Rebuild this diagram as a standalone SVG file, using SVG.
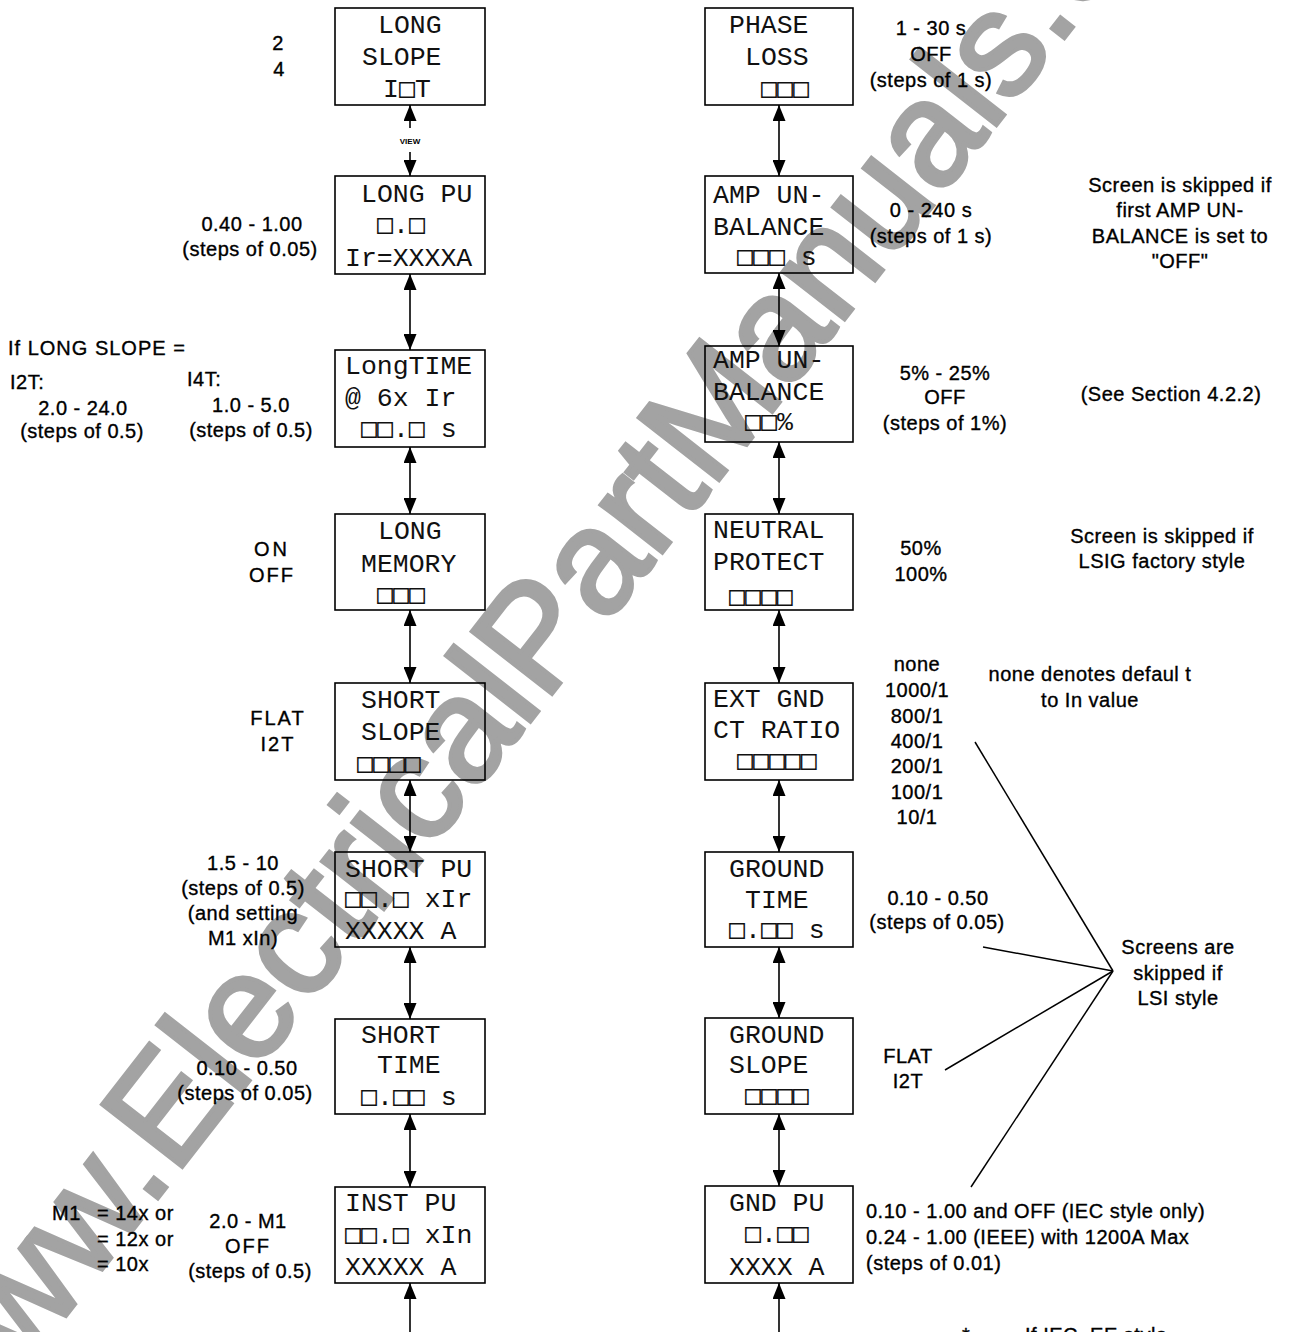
<svg xmlns="http://www.w3.org/2000/svg" width="1292" height="1332" viewBox="0 0 1292 1332">
<style>
.box{fill:none;stroke:#000;stroke-width:1.6}
.lcd{font-family:"Liberation Mono","DejaVu Sans Mono",monospace;font-size:26.5px;fill:#111}
.sq{font-family:"DejaVu Sans Mono",monospace;fill:#111}
.lbl{font-family:"Liberation Sans",Arial,sans-serif;font-size:20px;letter-spacing:0.5px;fill:#000;stroke:#000;stroke-width:0.35px}
.c{text-anchor:middle}
.conn line{stroke:#000;stroke-width:1.6}
.ptr line{stroke:#000;stroke-width:1.5}
.wm{font-family:"Liberation Sans",Arial,sans-serif;font-size:148px;fill:#a3a3a3;stroke:#a3a3a3;stroke-width:4px;stroke-linejoin:miter}
.view{font-family:"Liberation Sans",Arial,sans-serif;font-weight:bold;font-size:8px;fill:#000;text-anchor:middle}
</style>
<defs>
<marker id="ah" viewBox="0 0 16 13" refX="16" refY="6.5" markerWidth="16" markerHeight="13" markerUnits="userSpaceOnUse" orient="auto-start-reverse">
<path d="M0,0 L16,6.5 L0,13 z" fill="#000"/>
</marker>
</defs>
<rect width="1292" height="1332" fill="#fff"/>
<g id="watermark">
<text class="wm" transform="translate(180,1170) rotate(-52)" x="-362" y="0">www.ElectricalPartManuals.com</text>
</g>
<g id="connectors" class="conn">
<line x1="410" y1="105" x2="410" y2="128" marker-start="url(#ah)"/>
<line x1="410" y1="152" x2="410" y2="176" marker-end="url(#ah)"/>
<line x1="410" y1="274" x2="410" y2="350" marker-start="url(#ah)" marker-end="url(#ah)"/>
<line x1="410" y1="447" x2="410" y2="514" marker-start="url(#ah)" marker-end="url(#ah)"/>
<line x1="410" y1="610" x2="410" y2="683" marker-start="url(#ah)" marker-end="url(#ah)"/>
<line x1="410" y1="780" x2="410" y2="852" marker-start="url(#ah)" marker-end="url(#ah)"/>
<line x1="410" y1="947" x2="410" y2="1019" marker-start="url(#ah)" marker-end="url(#ah)"/>
<line x1="410" y1="1114" x2="410" y2="1187" marker-start="url(#ah)" marker-end="url(#ah)"/>
<line x1="410" y1="1283" x2="410" y2="1340" marker-start="url(#ah)"/>
<line x1="779" y1="105" x2="779" y2="176" marker-start="url(#ah)" marker-end="url(#ah)"/>
<line x1="779" y1="273" x2="779" y2="346" marker-start="url(#ah)" marker-end="url(#ah)"/>
<line x1="779" y1="442" x2="779" y2="514" marker-start="url(#ah)" marker-end="url(#ah)"/>
<line x1="779" y1="610" x2="779" y2="683" marker-start="url(#ah)" marker-end="url(#ah)"/>
<line x1="779" y1="780" x2="779" y2="852" marker-start="url(#ah)" marker-end="url(#ah)"/>
<line x1="779" y1="947" x2="779" y2="1018" marker-start="url(#ah)" marker-end="url(#ah)"/>
<line x1="779" y1="1114" x2="779" y2="1186" marker-start="url(#ah)" marker-end="url(#ah)"/>
<line x1="779" y1="1283" x2="779" y2="1340" marker-start="url(#ah)"/>
<text class="view" x="410" y="144">VIEW</text>
</g>
<g id="pointers" class="ptr">
<line x1="975" y1="742" x2="1113" y2="971"/>
<line x1="983" y1="947" x2="1113" y2="971"/>
<line x1="945" y1="1070" x2="1113" y2="971"/>
<line x1="971" y1="1187" x2="1113" y2="971"/>
</g>
<g id="long-slope"><rect class="box" x="335" y="8" width="150" height="97"/>
<text class="lcd" x="378" y="33">LONG</text><text class="lcd" x="362" y="65">SLOPE</text><text class="lcd" x="383" y="97">I<tspan class="sq">□</tspan>T</text></g>
<g id="long-pu"><rect class="box" x="335" y="176" width="150" height="98"/>
<text class="lcd" x="361" y="202">LONG PU</text><text class="lcd" x="377" y="233"><tspan class="sq">□</tspan>.<tspan class="sq">□</tspan></text><text class="lcd" x="345" y="266">Ir=XXXXA</text></g>
<g id="long-time"><rect class="box" x="335" y="350" width="150" height="97"/>
<text class="lcd" x="345" y="374">LongTIME</text><text class="lcd" x="345" y="406">@ 6x Ir</text><text class="lcd" x="361" y="437"><tspan class="sq">□□</tspan>.<tspan class="sq">□</tspan> s</text></g>
<g id="long-memory"><rect class="box" x="335" y="514" width="150" height="96"/>
<text class="lcd" x="378" y="539">LONG</text><text class="lcd" x="361" y="572">MEMORY</text><text class="lcd sq" x="377" y="603">□□□</text></g>
<g id="short-slope"><rect class="box" x="335" y="683" width="150" height="97"/>
<text class="lcd" x="361" y="708">SHORT</text><text class="lcd" x="361" y="740">SLOPE</text><text class="lcd sq" x="357" y="772">□□□□</text></g>
<g id="short-pu"><rect class="box" x="335" y="852" width="150" height="95"/>
<text class="lcd" x="345" y="877">SHORT PU</text><text class="lcd" x="345" y="907"><tspan class="sq">□□</tspan>.<tspan class="sq">□</tspan> xIr</text><text class="lcd" x="345" y="939">XXXXX A</text></g>
<g id="short-time"><rect class="box" x="335" y="1019" width="150" height="95"/>
<text class="lcd" x="361" y="1043">SHORT</text><text class="lcd" x="377" y="1073">TIME</text><text class="lcd" x="361" y="1105"><tspan class="sq">□</tspan>.<tspan class="sq">□□</tspan> s</text></g>
<g id="inst-pu"><rect class="box" x="335" y="1187" width="150" height="96"/>
<text class="lcd" x="345" y="1211">INST PU</text><text class="lcd" x="345" y="1243"><tspan class="sq">□□</tspan>.<tspan class="sq">□</tspan> xIn</text><text class="lcd" x="345" y="1275">XXXXX A</text></g>
<g id="phase-loss"><rect class="box" x="705" y="8" width="148" height="97"/>
<text class="lcd" x="729" y="33">PHASE</text><text class="lcd" x="745" y="65">LOSS</text><text class="lcd sq" x="761" y="97">□□□</text></g>
<g id="amp-unbalance-time"><rect class="box" x="705" y="176" width="148" height="97"/>
<text class="lcd" x="713" y="203">AMP UN-</text><text class="lcd" x="713" y="235">BALANCE</text><text class="lcd" x="737" y="265"><tspan class="sq">□□□</tspan> s</text></g>
<g id="amp-unbalance-pct"><rect class="box" x="705" y="346" width="148" height="96"/>
<text class="lcd" x="713" y="368">AMP UN-</text><text class="lcd" x="713" y="400">BALANCE</text><text class="lcd" x="745" y="430"><tspan class="sq">□□</tspan>%</text></g>
<g id="neutral-protect"><rect class="box" x="705" y="514" width="148" height="96"/>
<text class="lcd" x="713" y="538">NEUTRAL</text><text class="lcd" x="713" y="570">PROTECT</text><text class="lcd sq" x="729" y="605">□□□□</text></g>
<g id="ext-gnd"><rect class="box" x="705" y="683" width="148" height="97"/>
<text class="lcd" x="713" y="707">EXT GND</text><text class="lcd" x="713" y="738">CT RATIO</text><text class="lcd sq" x="737" y="769">□□□□□</text></g>
<g id="ground-time"><rect class="box" x="705" y="852" width="148" height="95"/>
<text class="lcd" x="729" y="877">GROUND</text><text class="lcd" x="745" y="908">TIME</text><text class="lcd" x="729" y="938"><tspan class="sq">□</tspan>.<tspan class="sq">□□</tspan> s</text></g>
<g id="ground-slope"><rect class="box" x="705" y="1018" width="148" height="96"/>
<text class="lcd" x="729" y="1043">GROUND</text><text class="lcd" x="729" y="1073">SLOPE</text><text class="lcd sq" x="745" y="1104">□□□□</text></g>
<g id="gnd-pu"><rect class="box" x="705" y="1186" width="148" height="97"/>
<text class="lcd" x="729" y="1211">GND PU</text><text class="lcd" x="745" y="1242"><tspan class="sq">□</tspan>.<tspan class="sq">□□</tspan></text><text class="lcd" x="729" y="1275">XXXX A</text></g>
<g id="labels-left">
<text class="lbl c" x="278" y="50">2</text><text class="lbl c" x="279" y="76">4</text>
<text class="lbl c" x="252" y="231">0.40 - 1.00</text><text class="lbl c" x="250" y="256">(steps of 0.05)</text>
<text class="lbl" x="8" y="355" style="letter-spacing:1px">If LONG SLOPE =</text>
<text class="lbl" x="10" y="389">I2T:</text><text class="lbl" x="187" y="386">I4T:</text>
<text class="lbl c" x="83" y="415">2.0 - 24.0</text><text class="lbl c" x="82" y="438">(steps of 0.5)</text>
<text class="lbl c" x="251" y="412">1.0 - 5.0</text><text class="lbl c" x="251" y="437">(steps of 0.5)</text>
<text class="lbl c" x="272" y="556" style="letter-spacing:3px">ON</text><text class="lbl c" x="272" y="582" style="letter-spacing:2px">OFF</text>
<text class="lbl c" x="278" y="725" style="letter-spacing:2px">FLAT</text><text class="lbl c" x="278" y="751" style="letter-spacing:2px">I2T</text>
<text class="lbl c" x="243" y="870">1.5 - 10</text><text class="lbl c" x="243" y="895">(steps of 0.5)</text>
<text class="lbl c" x="243" y="920">(and setting</text><text class="lbl c" x="243" y="945">M1 xIn)</text>
<text class="lbl c" x="247" y="1075">0.10 - 0.50</text><text class="lbl c" x="245" y="1100">(steps of 0.05)</text>
<text class="lbl" x="52" y="1220">M1</text><text class="lbl" x="97" y="1220">= 14x or</text>
<text class="lbl" x="97" y="1246">= 12x or</text><text class="lbl" x="97" y="1271">= 10x</text>
<text class="lbl c" x="248" y="1228">2.0 - M1</text><text class="lbl c" x="248" y="1253" style="letter-spacing:2px">OFF</text>
<text class="lbl c" x="250" y="1278">(steps of 0.5)</text>
</g>
<g id="labels-right">
<text class="lbl c" x="931" y="35">1 - 30 s</text><text class="lbl c" x="931" y="61">OFF</text><text class="lbl c" x="931" y="87">(steps of 1 s)</text>
<text class="lbl c" x="931" y="217">0 - 240 s</text><text class="lbl c" x="931" y="243">(steps of 1 s)</text>
<text class="lbl c" x="1180" y="192">Screen is skipped if</text><text class="lbl c" x="1180" y="217">first AMP UN-</text>
<text class="lbl c" x="1180" y="243">BALANCE is set to</text><text class="lbl c" x="1180" y="268">"OFF"</text>
<text class="lbl c" x="945" y="380">5% - 25%</text><text class="lbl c" x="945" y="404">OFF</text><text class="lbl c" x="945" y="430">(steps of 1%)</text>
<text class="lbl c" x="1171" y="401">(See Section 4.2.2)</text>
<text class="lbl c" x="921" y="555">50%</text><text class="lbl c" x="921" y="581">100%</text>
<text class="lbl c" x="1162" y="543">Screen is skipped if</text><text class="lbl c" x="1162" y="568">LSIG factory style</text>
<text class="lbl c" x="917" y="671">none</text><text class="lbl c" x="917" y="697">1000/1</text><text class="lbl c" x="917" y="723">800/1</text>
<text class="lbl c" x="917" y="748">400/1</text><text class="lbl c" x="917" y="773">200/1</text><text class="lbl c" x="917" y="799">100/1</text><text class="lbl c" x="917" y="824">10/1</text>
<text class="lbl c" x="1090" y="681">none denotes defaul t</text><text class="lbl c" x="1090" y="707">to In value</text>
<text class="lbl c" x="938" y="905">0.10 - 0.50</text><text class="lbl c" x="937" y="929">(steps of 0.05)</text>
<text class="lbl c" x="1178" y="954">Screens are</text><text class="lbl c" x="1178" y="980">skipped if</text><text class="lbl c" x="1178" y="1005">LSI style</text>
<text class="lbl c" x="908" y="1063">FLAT</text><text class="lbl c" x="908" y="1088">I2T</text>
<text class="lbl" x="866" y="1218">0.10 - 1.00 and OFF (IEC style only)</text>
<text class="lbl" x="866" y="1244">0.24 - 1.00 (IEEE) with 1200A Max</text>
<text class="lbl" x="866" y="1270">(steps of 0.01)</text>
<text class="lbl" x="962" y="1342">*</text><text class="lbl" x="1025" y="1342">If IEC, EE style</text>
</g>
</svg>
